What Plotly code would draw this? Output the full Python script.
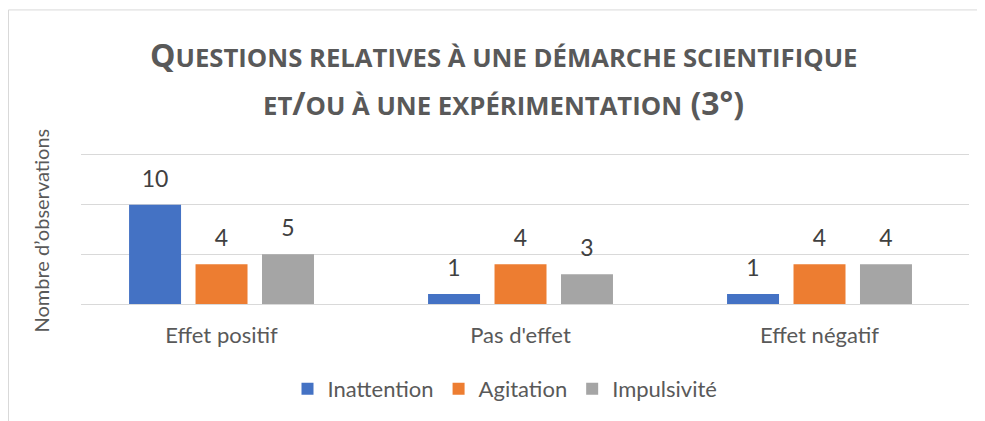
import plotly.graph_objects as go

categories = ["Effet positif", "Pas d'effet", "Effet négatif"]
series_names = ["Inattention", "Agitation", "Impulsivité"]
inattention = [10, 1, 1]
agitation = [4, 4, 4]
impulsivite = [5, 3, 4]
colors = ["#4472C4", "#ED7D31", "#A5A5A5"]

FONT = "Lato"
TFONT = "Open Sans"
OFF = 8  # page body margin
W, H = 985 - OFF, 421 - OFF
L, R, T, B = 81 - OFF, 16, 152 - OFF, 116
pw = W - L - R
ph = H - T - B

def px_x(x):
    return (x - OFF - L) / pw

def px_y(y):
    return (H - B - (y - OFF)) / ph

fig = go.Figure()
for name, vals, col in zip(series_names, [inattention, agitation, impulsivite], colors):
    fig.add_trace(go.Bar(
        x=categories, y=vals, name=name, marker_color=col, marker_line_width=0,
        text=vals, texttemplate="<span style='font-size:23px'>%{y}</span><br>\u00a0",
        textposition="outside", constraintext="none",
        textfont=dict(family=FONT, size=10, color="#404040"), cliponaxis=False,
    ))

SC = "font-size:25.7px"
title1 = f"<b>Q<span style='{SC}'>UESTIONS RELATIVES À UNE DÉMARCHE SCIENTIFIQUE</span></b>"
title2 = f"<b><span style='{SC}'>ET</span>/<span style='{SC}'>OU À UNE EXPÉRIMENTATION</span> (3°)</b>"

annotations = [
    dict(text=title1, x=px_x(503), y=px_y(54), xref="paper", yref="paper", showarrow=False,
         xanchor="center", yanchor="middle", font=dict(family=TFONT, size=32, color="#595959")),
    dict(text=title2, x=px_x(503), y=px_y(102), xref="paper", yref="paper", showarrow=False,
         xanchor="center", yanchor="middle", font=dict(family=TFONT, size=32, color="#595959")),
    dict(text="Nombre d\u2019observations", x=px_x(41), y=px_y(231), xref="paper", yref="paper",
         showarrow=False, textangle=-90, xanchor="center", yanchor="middle",
         font=dict(family=FONT, size=20, color="#595959")),
]

fig.update_layout(
    width=W, height=H,
    margin=dict(l=L, r=R, t=T, b=B, pad=0),
    paper_bgcolor="white", plot_bgcolor="white",
    barmode="group", bargap=0.333, bargroupgap=0.218,
    showlegend=True,
    legend=dict(orientation="h", x=px_x(505), y=px_y(389), xanchor="center", yanchor="middle",
                font=dict(family=FONT, size=22, color="#595959"), itemwidth=30),
    annotations=annotations,
    shapes=[dict(type="rect", xref="paper", yref="paper", x0=px_x(8.5), y0=px_y(440),
                 x1=px_x(1000), y1=px_y(9), line=dict(color="#d9d9d9", width=1))],
)
fig.update_xaxes(range=[-0.47, 2.5], showgrid=False, showline=True, linecolor="#d9d9d9",
                 tickfont=dict(family=FONT, size=22, color="#595959"), ticks="",
                 ticklabelstandoff=12)
fig.update_yaxes(range=[0, ph / 10.0], tickvals=[0, 5, 10, 15], showticklabels=False,
                 gridcolor="#d9d9d9", zeroline=False, showline=False)

fig.write_html("out.html")
